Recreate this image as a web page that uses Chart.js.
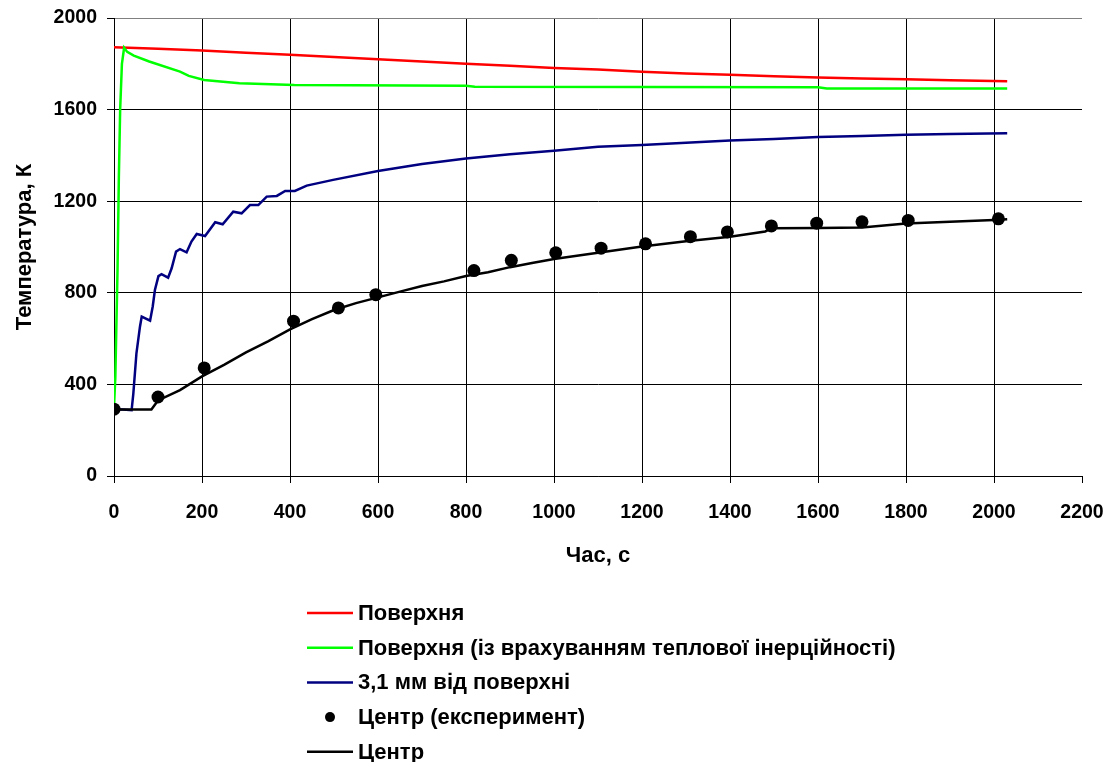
<!DOCTYPE html>
<html>
<head>
<meta charset="utf-8">
<script src="https://cdn.jsdelivr.net/npm/chart.js@4/dist/chart.umd.min.js"></script>
<style>
  html, body { margin: 0; padding: 0; background: #fff; }
  #wrap { width: 1113px; height: 762px; position: relative; }
</style>
</head>
<body>
<div id="wrap"><canvas id="tempChart"></canvas></div>
<script>
// Поверхня
const surfT = [0, 100, 200, 300, 400, 500, 600, 700, 800, 900, 1000, 1100, 1200, 1300, 1400, 1500, 1600, 1700, 1800, 1900, 2030];
const surfK = [1872, 1866, 1858, 1848, 1840, 1830, 1820, 1810, 1800, 1791, 1782, 1775, 1765, 1758, 1752, 1746, 1740, 1736, 1732, 1728, 1724];

// Поверхня (із врахуванням теплової інерційності)
const inertT = [0, 3, 8, 11, 14, 18, 23, 30, 45, 80, 150, 170, 205, 285, 410, 800, 820, 1600, 1620, 2030];
const inertK = [300, 430, 900, 1300, 1600, 1800, 1870, 1852, 1836, 1810, 1766, 1747, 1729, 1715, 1707, 1704, 1700, 1698, 1692, 1692];

// 3,1 мм від поверхні
const midT = [0, 20, 40, 44, 51, 59, 63, 82, 88, 93, 101, 108, 123, 131, 141, 150, 165, 176, 188, 207, 230, 247, 271, 290, 309, 328, 347, 370, 389, 411, 438, 498, 600, 700, 800, 900, 1000, 1100, 1200, 1300, 1400, 1500, 1600, 1700, 1800, 1900, 2030];
const midK = [290, 290, 287, 361, 536, 652, 696, 678, 740, 812, 873, 881, 866, 907, 980, 991, 977, 1024, 1057, 1048, 1108, 1099, 1154, 1147, 1183, 1183, 1220, 1223, 1245, 1245, 1268, 1293, 1332, 1362, 1386, 1405, 1420, 1438, 1445, 1455, 1465, 1472, 1480, 1485, 1490, 1493, 1497];

// Центр (експеримент)
const expT = [0, 100, 205, 408, 510, 595, 818, 903, 1004, 1107, 1208, 1310, 1394, 1494, 1597, 1700, 1805, 2010];
const expK = [292, 345, 472, 676, 734, 792, 897, 942, 975, 995, 1014, 1045, 1066, 1092, 1104, 1110, 1116, 1123];

// Центр
const coreT = [0, 85, 100, 150, 200, 250, 300, 350, 400, 450, 500, 550, 600, 650, 700, 750, 800, 850, 900, 950, 1000, 1100, 1200, 1300, 1400, 1480, 1495, 1600, 1700, 1800, 1900, 2000, 2030];
const coreK = [290, 290, 330, 375, 435, 485, 540, 588, 640, 685, 725, 755, 780, 805, 830, 850, 873, 890, 912, 930, 948, 975, 1002, 1025, 1045, 1068, 1082, 1083, 1085, 1103, 1110, 1118, 1121];

const xTicks = [0, 200, 400, 600, 800, 1000, 1200, 1400, 1600, 1800, 2000, 2200];
const yTicks = [0, 400, 800, 1200, 1600, 2000];

const FONT = "'Liberation Sans', Arial, sans-serif";

function pts(xs, ys) {
    return xs.map((x, i) => ({ x: x, y: ys[i] }));
}

// vertical legend under the chart, like the Excel one
const listLegend = {
    id: 'listLegend',
    afterDraw(chart) {
        const ctx = chart.ctx;
        const x0 = 307, y0 = 613, step = 34.7;
        ctx.save();
        ctx.font = 'bold 22px ' + FONT;
        ctx.textBaseline = 'middle';
        chart.data.datasets.forEach((ds, i) => {
            const y = y0 + i * step;
            if (ds.showLine === false) {
                ctx.beginPath();
                ctx.arc(x0 + 23, y, 5, 0, Math.PI * 2);
                ctx.fillStyle = ds.pointBackgroundColor;
                ctx.fill();
            } else {
                ctx.beginPath();
                ctx.moveTo(x0, y);
                ctx.lineTo(x0 + 46, y);
                ctx.strokeStyle = ds.borderColor;
                ctx.lineWidth = 2.5;
                ctx.stroke();
            }
            ctx.fillStyle = '#000';
            ctx.fillText(ds.label, x0 + 51, y + 1);
        });
        ctx.restore();
    }
};

const ctx = document.getElementById('tempChart').getContext('2d');
new Chart(ctx, {
    type: 'line',
    data: {
        datasets: [
            { label: 'Поверхня', data: pts(surfT, surfK), borderColor: '#ff0000', borderWidth: 2.5, pointRadius: 0, order: 5 },
            { label: 'Поверхня (із врахуванням теплової інерційності)', data: pts(inertT, inertK), borderColor: '#00ff00', borderWidth: 2.5, pointRadius: 0, order: 4 },
            { label: '3,1 мм від поверхні', data: pts(midT, midK), borderColor: '#000080', borderWidth: 2.5, pointRadius: 0, order: 3 },
            { label: 'Центр (експеримент)', data: pts(expT, expK), showLine: false, pointRadius: 6.5, pointBackgroundColor: '#000', pointBorderColor: '#000', pointBorderWidth: 0, order: 1 },
            { label: 'Центр', data: pts(coreT, coreK), borderColor: '#000', borderWidth: 2.5, pointRadius: 0, order: 2 }
        ]
    },
    options: {
        responsive: true,
        maintainAspectRatio: false,
        animation: false,
        layout: { padding: { left: 0, top: 18, right: 31, bottom: 189 } },
        scales: {
            x: {
                type: 'linear',
                min: 0, max: 2200,
                afterBuildTicks: s => { s.ticks = xTicks.map(v => ({ value: v })); },
                afterFit: s => { s.height = 97; s.paddingLeft = 0; s.paddingRight = 0; },
                grid: {
                    color: c => c.tick && c.tick.value === 2200 ? 'rgba(0,0,0,0)' : '#000',
                    lineWidth: 1, tickLength: 7, tickColor: '#000'
                },
                border: { color: '#000', width: 1 },
                ticks: {
                    color: '#000', font: { family: FONT, size: 19.5, weight: 'bold' }, padding: 18, maxRotation: 0,
                    callback: v => String(v)
                },
                title: { display: true, text: 'Час, с', color: '#000', font: { family: FONT, size: 22, weight: 'bold' }, padding: { top: 10 } }
            },
            y: {
                min: 0, max: 2000,
                afterBuildTicks: s => { s.ticks = yTicks.map(v => ({ value: v })); },
                afterFit: s => { s.width = 114; s.paddingTop = 0; s.paddingBottom = 0; },
                grid: {
                    color: c => c.tick && c.tick.value === 2000 ? '#808080' : '#000',
                    lineWidth: 1, tickLength: 7, tickColor: '#000'
                },
                border: { color: '#000', width: 1 },
                ticks: {
                    color: '#000', font: { family: FONT, size: 19.5, weight: 'bold' }, padding: 10,
                    callback: v => String(v)
                },
                title: { display: true, text: 'Температура, К', color: '#000', font: { family: FONT, size: 22, weight: 'bold' }, padding: { top: 12, bottom: 0 } }
            }
        },
        plugins: {
            legend: { display: false },
            tooltip: { enabled: false }
        }
    },
    plugins: [listLegend]
});
</script>
</body>
</html>
